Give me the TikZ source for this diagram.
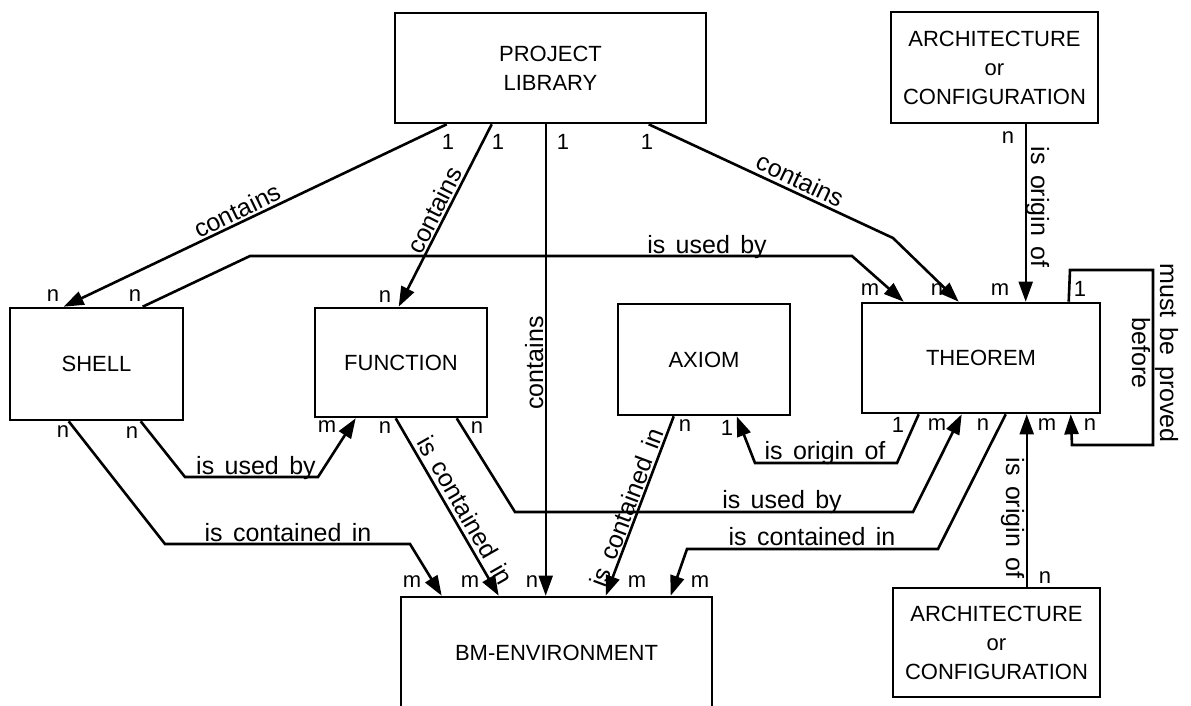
\documentclass[tikz,border=0pt]{standalone}
\usepackage{fontspec}
\setmainfont{Liberation Sans}
\newfontfamily\lblfont[WordSpace=1.5]{Liberation Sans}
\usetikzlibrary{arrows.meta}
\tikzset{
  entity/.style={draw, line width=2.6pt, inner sep=0pt, align=center,
    font=\fontsize{22}{29}\selectfont},
  link/.style={line width=2.6pt, line join=miter,
    -{Triangle[length=20pt,width=14pt]}},
  rel/.style={font=\lblfont\fontsize{25}{28}\selectfont, inner sep=0pt, anchor=base},
  card/.style={font=\fontsize{22}{22}\selectfont, inner sep=0pt},
}
\begin{document}
\begin{tikzpicture}[x=1pt,y=-1pt]
\clip (0,0) rectangle (1191,705);
\fill[white] (0,0) rectangle (1191,705);

% entities
\node[entity, minimum width=311pt, minimum height=110pt] (pl) at (550.5,68) {PROJECT\\LIBRARY};
\node[entity, minimum width=207pt, minimum height=111pt] (arch1) at (994.5,67.5) {ARCHITECTURE\\or\\CONFIGURATION};
\node[entity, minimum width=173pt, minimum height=112pt] (shell) at (96.5,364) {SHELL};
\node[entity, minimum width=172pt, minimum height=109pt] (func) at (401,362.5) {FUNCTION};
\node[entity, minimum width=172pt, minimum height=111pt] (axiom) at (704,359.5) {AXIOM};
\node[entity, minimum width=238pt, minimum height=110pt] (thm) at (981,358) {THEOREM};
\node[entity, minimum width=311pt, minimum height=112pt] (bm) at (556.5,653) {BM-ENVIRONMENT};
\node[entity, minimum width=207pt, minimum height=109pt] (arch2) at (996.5,642.5) {ARCHITECTURE\\or\\CONFIGURATION};

% project library contains ...
\draw[link] ([xshift=53pt]pl.south west) -- ([xshift=55pt]shell.north west);
\draw[link] ([xshift=98pt]pl.south west) -- ([xshift=85pt]func.north west);
\draw[link, line width=2pt] ([xshift=152pt]pl.south west) -- ([xshift=146pt]bm.north west);
\draw[link] ([xshift=255pt]pl.south west) -- (893,238) -- ([xshift=98pt]thm.north west);

% shell is used by theorem
\draw[link] ([xshift=134pt]shell.north west) -- (250,256) -- (852,256) -- ([xshift=43pt]thm.north west);
% architecture is origin of theorem
\draw[link, line width=2.2pt] ([xshift=136pt]arch1.south west) -- ([xshift=165pt]thm.north west);
% theorem must be proved before theorem
\draw[link] ([xshift=208pt]thm.north west) -- (1070,270) -- (1153,270) -- (1153,445) -- (1072,445) -- ([xshift=210pt]thm.south west);

% shell relations
\draw[link] ([xshift=132pt]shell.south west) -- (185,477) -- (318,477) -- ([xshift=42pt]func.south west);
\draw[link] ([xshift=60pt]shell.south west) -- (165,544) -- (410,544) -- ([xshift=42pt]bm.north west);

% function relations
\draw[link] ([xshift=82pt]func.south west) -- ([xshift=99pt]bm.north west);
\draw[link] ([xshift=143pt]func.south west) -- (515,512) -- (913,512) -- ([xshift=101pt]thm.south west);

% axiom and theorem relations
\draw[link] ([xshift=57pt]axiom.south west) -- ([xshift=206pt]bm.north west);
\draw[link] ([xshift=58pt]thm.south west) -- (897,463) -- (755,463) -- ([xshift=120pt]axiom.south west);
\draw[link] ([xshift=145pt]thm.south west) -- (938,549) -- (687,549) -- ([xshift=271pt]bm.north west);
\draw[link, line width=2.2pt] ([xshift=135pt]arch2.north west) -- ([xshift=166pt]thm.south west);

% relation names
\node[rel, rotate=25.8] (r1) at (241,218.4) {contains};
\node[rel, rotate=63.3] (r2) at (442.4,214.2) {contains};
\node[rel, rotate=90] (r3) at (543,363) {contains};
\node[rel, rotate=-25.3] (r4) at (796.3,187.8) {contains};
\node[rel] (r5) at (707,253) {is used by};
\node[rel, rotate=-90] (r6) at (1031,207) {is origin of};
\node[rel, rotate=-90, anchor=center, align=center] (r7) at (1155,353) {must be proved\\before};
\node[rel] (r8) at (256,474) {is used by};
\node[rel] (r9) at (288,541) {is contained in};
\node[rel, rotate=-60.2] (r10) at (457.5,514.6) {is contained in};
\node[rel, rotate=69.5] (r11) at (635.1,510.5) {is contained in};
\node[rel] (r12) at (825,459) {is origin of};
\node[rel] (r13) at (782,508) {is used by};
\node[rel] (r14) at (812,545) {is contained in};
\node[rel, rotate=-90] (r15) at (1006,518) {is origin of};

% cardinalities
\node[card] (c1) at (448,142) {1};
\node[card] (c2) at (498,142) {1};
\node[card] (c3) at (563,142) {1};
\node[card] (c4) at (647,142) {1};
\node[card] (c5) at (53,296) {n};
\node[card] (c6) at (135,296) {n};
\node[card] (c7) at (385,297) {n};
\node[card] (c8) at (870,290) {m};
\node[card] (c9) at (937,290) {n};
\node[card] (c10) at (1000,290) {m};
\node[card] (c11) at (1080,289) {1};
\node[card] (c12) at (1008,138) {n};
\node[card] (c13) at (63,432) {n};
\node[card] (c14) at (132,433) {n};
\node[card] (c15) at (327,427) {m};
\node[card] (c16) at (385,428) {n};
\node[card] (c17) at (477,428) {n};
\node[card] (c18) at (685,426) {n};
\node[card] (c19) at (727,428) {1};
\node[card] (c20) at (898,425) {1};
\node[card] (c21) at (937,425) {m};
\node[card] (c22) at (983,425) {n};
\node[card] (c23) at (1047,425) {m};
\node[card] (c24) at (1090,425) {n};
\node[card] (c25) at (412,582) {m};
\node[card] (c26) at (470,582) {m};
\node[card] (c27) at (532,582) {n};
\node[card] (c28) at (637,582) {m};
\node[card] (c29) at (700,582) {m};
\node[card] (c30) at (1045,578) {n};
\end{tikzpicture}
\end{document}
